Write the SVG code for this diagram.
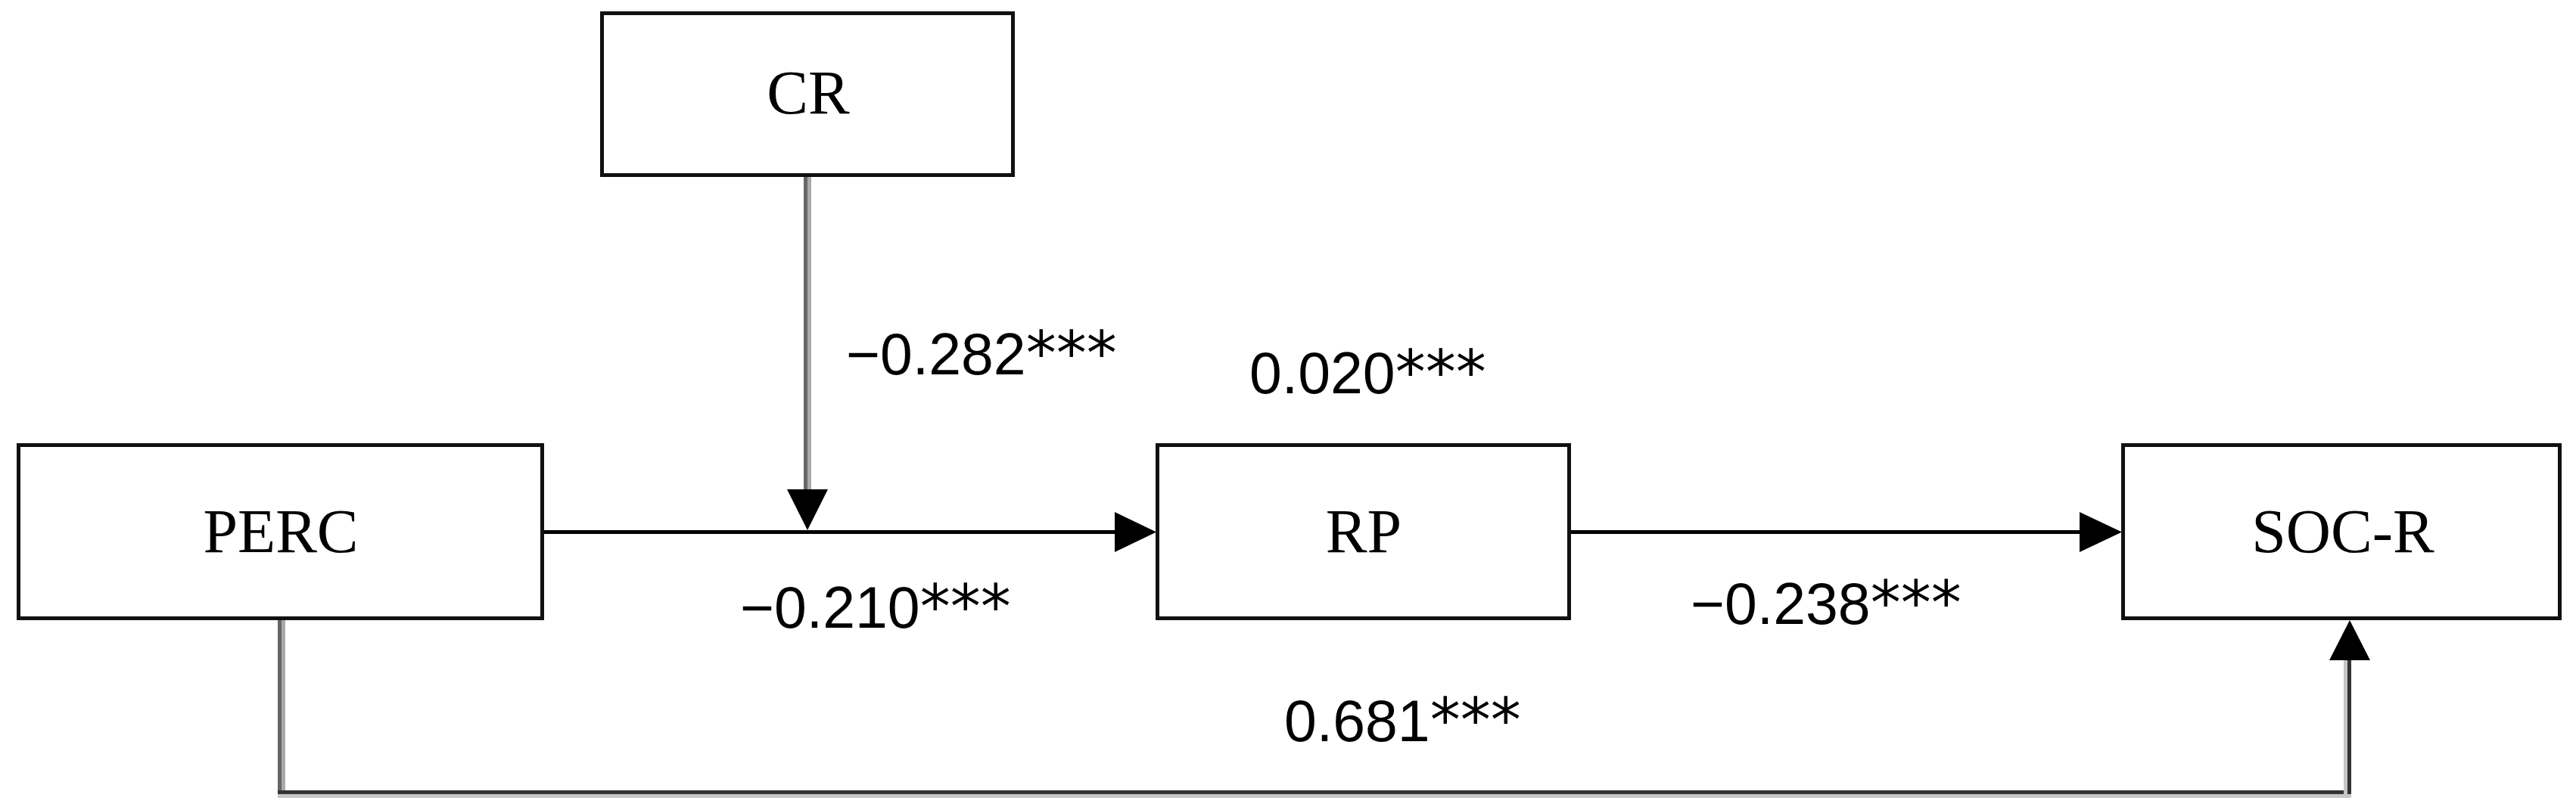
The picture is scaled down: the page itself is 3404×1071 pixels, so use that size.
<svg xmlns="http://www.w3.org/2000/svg" width="3404" height="1071" viewBox="0 0 3404 1071">
<style>
.box{fill:#fff;stroke:#111;stroke-width:5}
.lbl{font-family:"Liberation Serif","Times New Roman",serif;font-size:82px;fill:#000;text-anchor:middle}
.num{font-family:"Liberation Sans",Arial,sans-serif;font-size:77px;fill:#000}
.ast{font-family:"DejaVu Sans",sans-serif;font-size:80px}
.main{stroke:#000;stroke-width:5;fill:none}
.head{fill:#000}
.g1{stroke:#666;stroke-width:5;fill:none}
.g2{stroke:#aaa;stroke-width:5;fill:none}
.d1{stroke:#333;stroke-width:5;fill:none}
.d2{stroke:#c6c6c6;stroke-width:5;fill:none}
</style>
<rect width="3404" height="1071" fill="#fff"/>
<g id="connectors">
  <line class="main" x1="719" y1="703.5" x2="1476" y2="703.5"/>
  <polygon class="head" points="1473,677 1473,730 1528,703.5"/>
  <line class="main" x1="2076" y1="703.5" x2="2751" y2="703.5"/>
  <polygon class="head" points="2748,677 2748,730 2804,703.5"/>
  <line class="g1" x1="1064.5" y1="234" x2="1064.5" y2="650"/>
  <line class="g2" x1="1069.5" y1="234" x2="1069.5" y2="650"/>
  <polygon class="head" points="1040,647 1094,647 1067,701"/>
  <line class="g1" x1="369.5" y1="820" x2="369.5" y2="1050"/>
  <line class="g2" x1="374.5" y1="820" x2="374.5" y2="1050"/>
  <line class="d2" x1="367" y1="1052.5" x2="3107" y2="1052.5"/>
  <line class="d1" x1="367" y1="1047.5" x2="3107" y2="1047.5"/>
  <line class="d2" x1="3099.5" y1="870" x2="3099.5" y2="1050"/>
  <line class="d1" x1="3104.5" y1="870" x2="3104.5" y2="1050"/>
  <polygon class="head" points="3078,873 3132,873 3105,820"/>
</g>
<g id="node-CR">
  <rect class="box" x="795.5" y="17.5" width="543" height="214"/>
  <text class="lbl" x="1068" y="150">CR</text>
</g>
<g id="node-PERC">
  <rect class="box" x="24.5" y="588.5" width="692" height="229"/>
  <text class="lbl" x="371" y="730">PERC</text>
</g>
<g id="node-RP">
  <rect class="box" x="1529.5" y="588.5" width="544" height="229"/>
  <text class="lbl" x="1802" y="730">RP</text>
</g>
<g id="node-SOC-R">
  <rect class="box" x="2805.5" y="588.5" width="577" height="229"/>
  <text class="lbl" x="3096" y="730">SOC-R</text>
</g>
<g id="labels">
  <text class="num" x="1118" y="495">−0.282<tspan class="ast">***</tspan></text>
  <text class="num" x="1651" y="520">0.020<tspan class="ast">***</tspan></text>
  <text class="num" x="978" y="830">−0.210<tspan class="ast">***</tspan></text>
  <text class="num" x="2234" y="825">−0.238<tspan class="ast">***</tspan></text>
  <text class="num" x="1697" y="980">0.681<tspan class="ast">***</tspan></text>
</g>
</svg>
